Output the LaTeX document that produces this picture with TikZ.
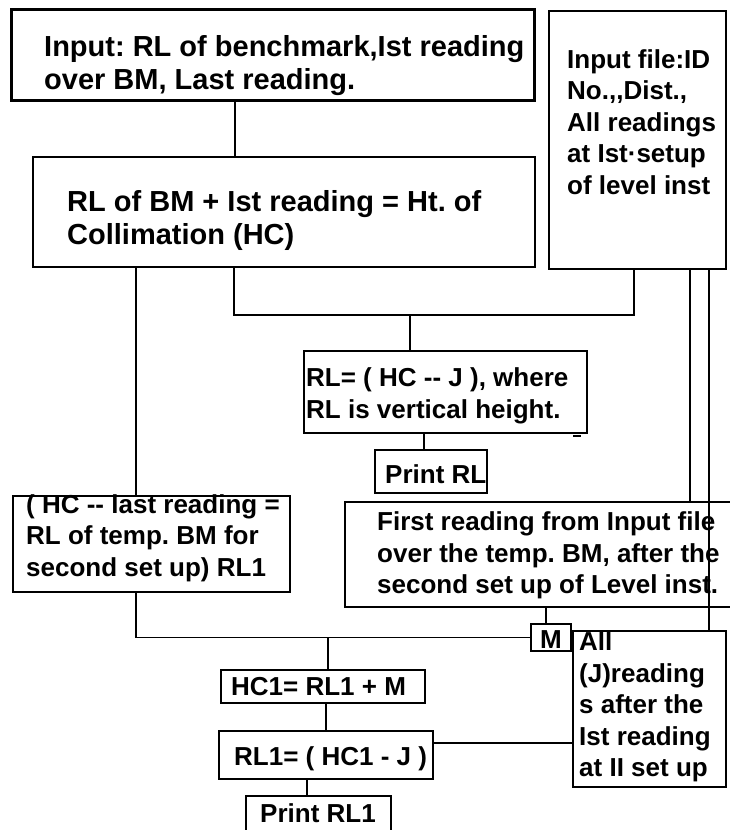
\documentclass[tikz,border=0pt]{standalone}
\usepackage{fontspec}
\setmainfont{Liberation Sans}
\frenchspacing
\begin{document}
\begin{tikzpicture}[x=1pt,y=-1pt,
  box/.style={draw,line width=2pt,rectangle,inner sep=0pt,anchor=north west},
  txt/.style={inner sep=0pt,anchor=west,align=left,font=\bfseries\fontsize{26}{31.5}\selectfont},
  big/.style={font=\bfseries\fontsize{29}{33}\selectfont},
  wire/.style={line width=1.3pt}]
\useasboundingbox[fill=white] (0,0) rectangle (730,830);
% boxes
\node[box,line width=2.5pt,minimum width=523pt,minimum height=91pt] (input) at (10,8) {};
\node[box,minimum width=502pt,minimum height=110pt] (hc) at (32,156) {};
\node[box,minimum width=177pt,minimum height=258pt] (file) at (548,10) {};
\node[box,minimum width=283pt,minimum height=82pt] (rl) at (303,350) {};
\node[box,minimum width=112pt,minimum height=43pt] (printrl) at (374,449) {};
\node[box,minimum width=277pt,minimum height=96pt] (tbm) at (12,495) {};
\node[box,minimum width=400pt,minimum height=105pt] (first) at (344,501) {};
\node[box,minimum width=40pt,minimum height=27pt] (mbox) at (530,623) {};
\node[box,minimum width=153pt,minimum height=156pt] (all) at (572,630) {};
\node[box,minimum width=204pt,minimum height=33pt] (hc1) at (220,669) {};
\node[box,minimum width=214pt,minimum height=48pt] (rl1) at (218,730) {};
\node[box,minimum width=145pt,minimum height=50pt] (printrl1) at (245,795) {};
% texts
\node[txt,big] (tinput) at (44,66) {Input: RL of benchmark,Ist reading\\over BM, Last reading.};
\node[txt,big] (thc) at (67,220.5) {RL of BM + Ist reading = Ht. of\\Collimation (HC)};
\node[txt] (tfile) at (567,122) {Input file:ID\\No.,{},Dist.,\\All readings\\at Ist·setup\\of level inst};
\node[txt] (trl) at (306,396) {RL= ( HC -{}- J ), where\\RL is vertical height.};
\node[txt] (tprintrl) at (385,474) {Print RL};
\node[txt] (ttbm) at (26,538) {( HC -{}- last reading =\\RL of temp. BM for\\second set up) RL1};
\node[txt] (tfirst) at (377,555.5) {First reading from Input file\\over the temp. BM, after the\\second set up of Level inst.};
\node[txt,anchor=center] (tm) at (551,640) {M};
\node[txt] (tall) at (579,707) {All\\(J)reading\\s after the\\Ist reading\\at II set up};
\node[txt] (thc1) at (231,687) {HC1= RL1 + M};
\node[txt] (trl1) at (234,759) {RL1= ( HC1 - J )};
\node[txt] (tprintrl1) at (260,813) {Print RL1};
% column coordinates
\coordinate (xa) at (235,0);
\coordinate (xb) at (136,0);
\coordinate (xc) at (234,0);
\coordinate (xd) at (634,0);
\coordinate (xe) at (424,0);
\coordinate (xf) at (690,0);
\coordinate (xg) at (709,0);
\coordinate (xh) at (546,0);
\coordinate (xi) at (326,0);
\coordinate (xj) at (307,0);
\coordinate (j1) at (410,315);
\coordinate (j2) at (328,637);
\coordinate (yk) at (0,743);
% connectors
\draw[wire,line width=2.5pt] (input.south -| xa) -- (hc.north -| xa);
\draw[wire] (hc.south -| xb) -- (tbm.north -| xb);
\draw[wire] (hc.south -| xc) -- (xc |- j1) -- (xd |- j1) -- (file.south -| xd);
\draw[wire] (j1) -- (rl.north -| j1);
\draw[wire] (rl.south -| xe) -- (printrl.north -| xe);
\draw[wire] (file.south -| xf) -- (first.north -| xf);
\draw[wire] (file.south -| xg) -- (all.north -| xg);
\draw[wire] (first.south -| xh) -- (mbox.north -| xh);
\draw[wire] (tbm.south -| xb) |- (mbox.west);
\draw[wire] (j2) -- (hc1.north -| j2);
\draw[wire] (hc1.south -| xi) -- (rl1.north -| xi);
\draw[wire] (rl1.east |- yk) -- (all.west |- yk);
\draw[wire] (rl1.south -| xj) -- (printrl1.north -| xj);
\draw[line width=2.5pt] (rl.south east) ++(-15,2) -- ++(8,0);
\end{tikzpicture}
\end{document}
